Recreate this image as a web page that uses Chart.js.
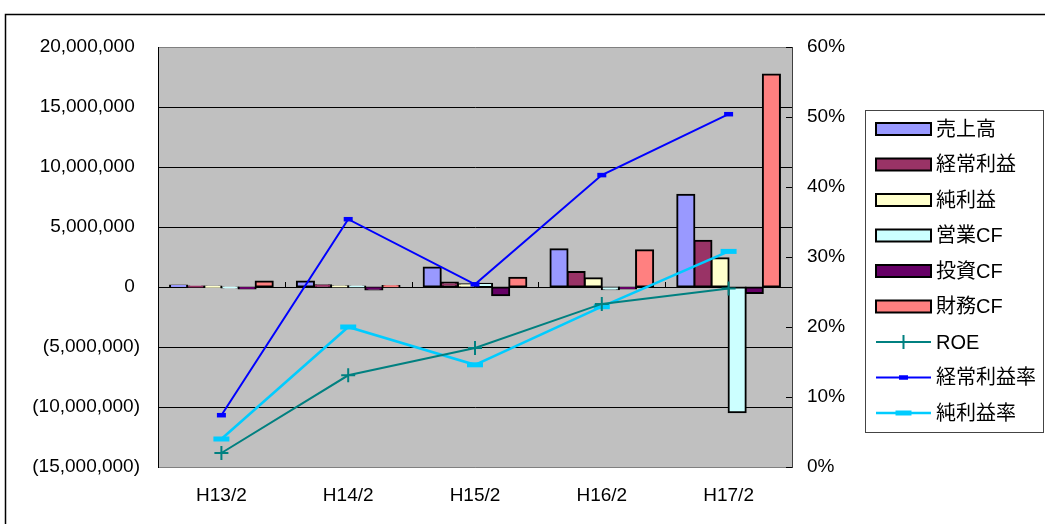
<!DOCTYPE html>
<html><head><meta charset="utf-8">
<script src="https://cdn.jsdelivr.net/npm/chart.js@4/dist/chart.umd.min.js"></script>
<style>html,body{margin:0;padding:0;background:#fff;}canvas{display:block;}</style>
</head><body>
<canvas id="c" width="1045" height="524"></canvas>
<script>
const categories = ['H13/2', 'H14/2', 'H15/2', 'H16/2', 'H17/2'];

// bar series (yen, left axis)
const sales       = [120000, 450000, 1620000, 3150000, 7690000];   // 売上高
const ordinary    = [30000, 150000, 370000, 1250000, 3860000];     // 経常利益
const netIncome   = [10000, 60000, 220000, 730000, 2390000];       // 純利益
const operatingCF = [-50000, 40000, 280000, -190000, -10440000];   // 営業CF
const investingCF = [-120000, -200000, -690000, -130000, -500000]; // 投資CF
const financingCF = [450000, 80000, 780000, 3060000, 17700000];    // 財務CF

// line series (%, right axis)
const roe         = [2.0, 13.1, 17.0, 23.3, 25.5];   // ROE
const ordinaryPct = [7.4, 35.4, 26.1, 41.7, 50.4];   // 経常利益率
const netPct      = [4.0, 20.0, 14.6, 22.9, 30.8];   // 純利益率

// tick labels
const leftTickValues = [20000000, 15000000, 10000000, 5000000, 0, -5000000, -10000000, -15000000];
const leftTickLabels = ['20,000,000', '15,000,000', '10,000,000', '5,000,000', '0', '(5,000,000)', '(10,000,000)', '(15,000,000)'];
const rightTickValues = [60, 50, 40, 30, 20, 10, 0];
const rightTickLabels = ['60%', '50%', '40%', '30%', '20%', '10%', '0%'];

const FONT = "'Liberation Sans', 'Noto Sans CJK JP', Arial, sans-serif";

function barDs(label, data, color) {
  return { type: 'bar', label, data, yAxisID: 'y', backgroundColor: color, borderColor: '#000',
           borderWidth: 2, borderSkipped: false, inflateAmount: 1,
           categoryPercentage: 0.81, barPercentage: 1, order: 2 };
}
function lineDs(label, data, color, width, pStyle, pRadius, pWidth) {
  return { type: 'line', label, data, yAxisID: 'y1', borderColor: color, backgroundColor: color,
           borderWidth: width, fill: false, tension: 0, pointStyle: pStyle, pointRadius: pRadius,
           pointHoverRadius: pRadius, pointBorderWidth: pWidth, pointBorderColor: color,
           pointBackgroundColor: color, order: 1 };
}

const datasets = [
  barDs('売上高', sales, '#9999FF'),
  barDs('経常利益', ordinary, '#993366'),
  barDs('純利益', netIncome, '#FFFFCC'),
  barDs('営業CF', operatingCF, '#CCFFFF'),
  barDs('投資CF', investingCF, '#660066'),
  barDs('財務CF', financingCF, '#FF8080'),
  lineDs('ROE', roe, '#008080', 2, 'cross', 7, 2),
  lineDs('経常利益率', ordinaryPct, '#0000FF', 2, 'line', 4.5, 4.5),
  lineDs('純利益率', netPct, '#00CCFF', 2.5, 'line', 8, 5)
];

const framePlugin = {
  id: 'frame',
  beforeDraw(chart) {
    const ctx = chart.ctx, a = chart.chartArea;
    ctx.save();
    ctx.fillStyle = '#fff';
    ctx.fillRect(0, 0, chart.width, chart.height);
    ctx.strokeStyle = '#000';
    ctx.lineWidth = 1.5;
    ctx.beginPath();
    ctx.moveTo(5.5, chart.height + 2);
    ctx.lineTo(5.5, 14.5);
    ctx.lineTo(chart.width + 2, 14.5);
    ctx.stroke();
    ctx.fillStyle = '#C0C0C0';
    ctx.fillRect(a.left, a.top, a.right - a.left, a.bottom - a.top);
    ctx.restore();
  },
  afterDatasetsDraw(chart) {
    const ctx = chart.ctx, a = chart.chartArea;
    const y1 = chart.scales.y1, x = chart.scales.x, y = chart.scales.y;
    ctx.save();
    ctx.strokeStyle = '#000';
    ctx.lineWidth = 1;
    y1.ticks.forEach(t => {
      const py = Math.round(y1.getPixelForValue(t.value)) + 0.5;
      ctx.beginPath(); ctx.moveTo(a.right - 6, py); ctx.lineTo(a.right, py); ctx.stroke();
    });
    const zy = Math.round(y.getPixelForValue(0));
    const step = (x.getPixelForValue(1) - x.getPixelForValue(0));
    for (let i = 1; i < categories.length; i++) {
      const px = Math.round(x.getPixelForValue(i) - step / 2) + 0.5;
      ctx.beginPath(); ctx.moveTo(px, zy - 5); ctx.lineTo(px, zy); ctx.stroke();
    }
    ctx.restore();
  }
};

const legendPlugin = {
  id: 'customLegend',
  afterDraw(chart) {
    const ctx = chart.ctx;
    const bx = 865.5, by = 110.5, bw = 178, bh = 322;
    ctx.save();
    ctx.fillStyle = '#fff';
    ctx.fillRect(bx, by, bw, bh);
    ctx.strokeStyle = '#444';
    ctx.lineWidth = 1;
    ctx.strokeRect(bx, by, bw, bh);
    const sx = 876, sw = 55, tx = 936, y0 = 129, dy = 35.5;
    ctx.font = '20px ' + FONT;
    ctx.textBaseline = 'middle';
    ctx.textAlign = 'left';
    chart.data.datasets.forEach((ds, i) => {
      const cy = y0 + i * dy;
      if (ds.type === 'bar') {
        ctx.fillStyle = ds.backgroundColor;
        ctx.fillRect(sx, cy - 6, sw, 12);
        ctx.strokeStyle = '#000';
        ctx.lineWidth = 2;
        ctx.strokeRect(sx, cy - 6, sw, 12);
      } else {
        ctx.strokeStyle = ds.borderColor;
        ctx.lineWidth = ds.borderWidth;
        ctx.beginPath(); ctx.moveTo(sx, cy); ctx.lineTo(sx + sw, cy); ctx.stroke();
        const mx = sx + sw / 2;
        ctx.lineWidth = ds.pointBorderWidth;
        ctx.beginPath();
        ctx.moveTo(mx - ds.pointRadius, cy); ctx.lineTo(mx + ds.pointRadius, cy);
        if (ds.pointStyle === 'cross') {
          ctx.moveTo(mx, cy - ds.pointRadius); ctx.lineTo(mx, cy + ds.pointRadius);
        }
        ctx.stroke();
      }
      ctx.fillStyle = '#000';
      ctx.fillText(ds.label, tx, cy + 1);
    });
    ctx.restore();
  }
};

new Chart(document.getElementById('c'), {
  data: { labels: categories, datasets },
  plugins: [framePlugin, legendPlugin],
  options: {
    responsive: false,
    animation: false,
    devicePixelRatio: 1,
    layout: { padding: { left: 0, top: 47, right: 193, bottom: 0 } },
    plugins: { legend: { display: false }, tooltip: { enabled: false } },
    scales: {
      x: {
        type: 'category',
        offset: true,
        grid: { display: false, drawTicks: false },
        border: { display: true, color: '#808080', width: 1 },
        ticks: { color: '#000', font: { family: FONT, size: 19 }, padding: 17, maxRotation: 0 },
        afterFit(s) { s.height = 57; }
      },
      y: {
        position: 'left',
        min: -15000000, max: 20000000,
        afterBuildTicks(s) { s.ticks = leftTickValues.slice().reverse().map(v => ({ value: v })); },
        grid: {
          drawTicks: false, lineWidth: 1,
          color: c => (c.tick && (c.tick.value === 20000000 || c.tick.value === -15000000)) ? '#808080' : '#000'
        },
        border: { display: true, color: '#000', width: 1 },
        ticks: {
          color: '#000', font: { family: FONT, size: 19 }, padding: 18,
          callback(v) {
            const i = leftTickValues.indexOf(v);
            const lab = i >= 0 ? leftTickLabels[i] : '';
            return v >= 0 ? lab + ' ' : lab;
          }
        },
        afterFit(s) { s.width = 158; }
      },
      y1: {
        position: 'right',
        min: 0, max: 60,
        afterBuildTicks(s) { s.ticks = rightTickValues.slice().reverse().map(v => ({ value: v })); },
        grid: { display: false, drawTicks: false, drawOnChartArea: false },
        border: { display: true, color: '#404040', width: 1 },
        ticks: {
          color: '#000', font: { family: FONT, size: 19 }, padding: 15,
          callback(v) { const i = rightTickValues.indexOf(v); return i >= 0 ? rightTickLabels[i] : ''; }
        },
        afterFit(s) { s.width = 60; }
      }
    }
  }
});
</script>
</body></html>
